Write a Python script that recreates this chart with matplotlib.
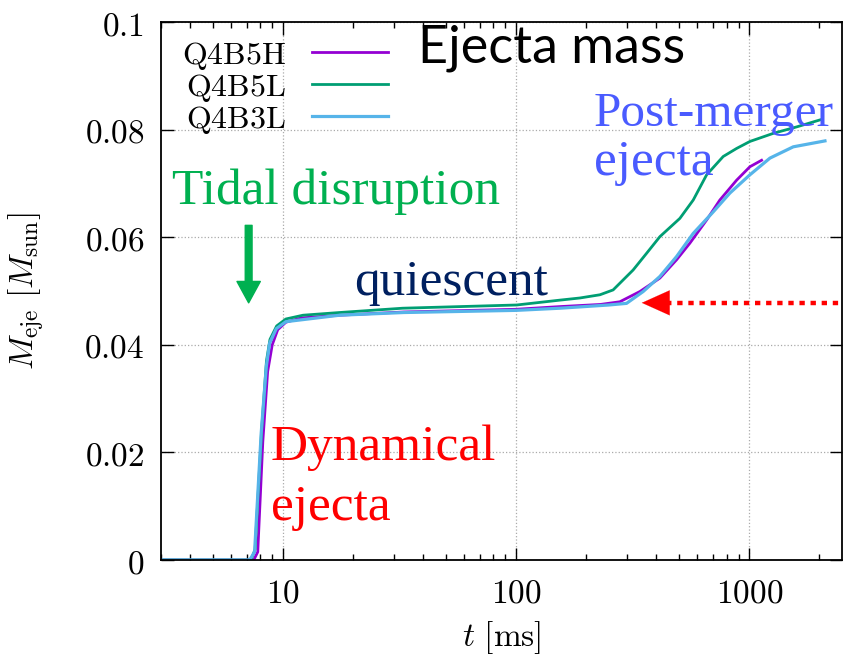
import matplotlib
matplotlib.use('Agg')
import matplotlib.pyplot as plt
from matplotlib.ticker import FixedLocator, FuncFormatter, LogLocator, NullFormatter
import numpy as np

plt.rcParams['mathtext.fontset'] = 'cm'

# ejecta mass curves (t in ms, M in Msun)
t_b5h = [3, 7.5, 7.8, 8.2, 8.6, 9.0, 9.5, 10.3, 12, 17.5, 33, 100, 154, 230,
         278.7, 339.6, 413.8, 488, 556.7, 656.7, 748, 883, 1007, 1130]
m_b5h = [0, 0, 0.0015, 0.022, 0.035, 0.040, 0.0428, 0.0442, 0.045, 0.0455, 0.0461,
         0.0466, 0.0471, 0.0475, 0.048, 0.0499, 0.0524, 0.0558, 0.0589, 0.0632,
         0.0669, 0.0706, 0.0731, 0.0743]

t_b5l = [3, 7.3, 7.6, 8.1, 8.5, 8.8, 9.4, 10.3, 12.2, 17.5, 32.6, 100.7, 154, 187.7,
         229, 260.8, 317.7, 362.8, 413.8, 504.2, 575.1, 656.7, 773.4, 883.1, 1007,
         1268, 1597, 2011]
m_b5l = [0, 0, 0.002, 0.024, 0.037, 0.041, 0.0435, 0.0448, 0.0455, 0.046, 0.0468,
         0.0474, 0.0483, 0.0487, 0.0493, 0.0502, 0.0539, 0.0570, 0.0601, 0.0635,
         0.0669, 0.0716, 0.0750, 0.0765, 0.0778, 0.0793, 0.0805, 0.0818]

t_b3l = [3, 7.2, 7.56, 8.07, 8.49, 8.77, 9.37, 10.3, 17.5, 33, 100, 154, 250, 297.7,
         350.9, 413.8, 488, 575, 700.6, 826, 1007, 1227, 1545, 2113]
m_b3l = [0, 0, 0.0015, 0.0236, 0.036, 0.0403, 0.043, 0.0443, 0.0455, 0.046, 0.0464,
         0.0468, 0.0474, 0.0477, 0.0499, 0.0527, 0.0564, 0.0607, 0.0647, 0.0682,
         0.0716, 0.0747, 0.0768, 0.0779]

labels = ['Q4B5H', 'Q4B5L', 'Q4B3L']
colors = ['#9400D3', '#009E73', '#56B4E9']

y_ticks = [0, 0.02, 0.04, 0.06, 0.08, 0.1]
x_ticks = [10, 100, 1000]

fig = plt.figure(figsize=(8.43, 6.56), dpi=100)
ax = fig.add_axes([161 / 843, 96 / 656, 681 / 843, 538 / 656])

ax.plot(t_b5h, m_b5h, color=colors[0], lw=2.0, label=labels[0])
ax.plot(t_b5l, m_b5l, color=colors[1], lw=2.0, label=labels[1])
ax.plot(t_b3l, m_b3l, color=colors[2], lw=2.3, label=labels[2])

ax.set_xscale('log')
ax.set_xlim(3, 2500)
ax.set_ylim(0, 0.1)

ax.xaxis.set_major_locator(FixedLocator(x_ticks))
ax.xaxis.set_minor_locator(LogLocator(base=10, subs=np.arange(2, 10)))
ax.xaxis.set_minor_formatter(NullFormatter())
ax.xaxis.set_major_formatter(FuncFormatter(lambda v, p: '$%g$' % v))
ax.yaxis.set_major_locator(FixedLocator(y_ticks))
ax.yaxis.set_major_formatter(FuncFormatter(lambda v, p: '$%g$' % v))

ax.tick_params(which='both', direction='in', top=True, right=True, labelsize=24, pad=12)
ax.tick_params(which='major', length=9, width=1.0)
ax.tick_params(which='minor', length=4.5, width=1.0)
for s in ax.spines.values():
    s.set_linewidth(1.3)

ax.grid(True, which='major', color='#aaaaaa', ls=':', lw=0.9)

ax.set_xlabel(r'$t\ [\mathrm{ms}]$', fontsize=24)
ax.set_ylabel(r'$M_{\rm eje}\ [M_{\rm sun}]$', fontsize=24)
ax.xaxis.set_label_coords(0.5, -0.11)
ax.yaxis.set_label_coords(-0.168, 0.5)

leg = ax.legend([l for l in ax.get_lines()], ['$\\mathrm{%s}$' % s for s in labels],
                loc='upper left', bbox_to_anchor=(0.005, 1.0), frameon=False,
                markerfirst=False, fontsize=23, handlelength=2.4, handletextpad=0.8,
                labelspacing=0.0, borderaxespad=0.15)

# annotations
ax.text(37.8, 0.0924, 'Ejecta mass', fontsize=37.5, family='Lato', color='black',
        va='baseline')
ax.text(3.33, 0.0662, 'Tidal disruption', fontsize=37, family='Liberation Serif',
        color='#00B050', va='baseline')
ax.text(20.3, 0.0493, 'quiescent', fontsize=37, family='Liberation Serif',
        color='#002060', va='baseline')
ax.text(8.86, 0.0186, 'Dynamical', fontsize=37, family='Liberation Serif',
        color='#FF0000', va='baseline')
ax.text(8.86, 0.0074, 'ejecta', fontsize=37, family='Liberation Serif',
        color='#FF0000', va='baseline')
ax.text(216, 0.0807, 'Post-merger', fontsize=35.5, family='Liberation Serif',
        color='#4A5BFF', va='baseline', clip_on=False)
ax.text(216, 0.0716, 'ejecta', fontsize=37, family='Liberation Serif',
        color='#4A5BFF', va='baseline')

# green arrow (tidal disruption)
ax.annotate('', xy=(7.13, 0.0478), xytext=(7.13, 0.0622),
            arrowprops=dict(arrowstyle='simple,head_width=1.2,head_length=1.1,tail_width=0.35',
                            color='#00B050', mutation_scale=14, shrinkA=0, shrinkB=0))

# red dotted arrow
ax.plot([395, 2600], [0.0478, 0.0478], color='#FF0000', lw=3.2, dashes=(1.2, 1.3),
        clip_on=False, solid_capstyle='butt')
ax.annotate('', xy=(346, 0.0478), xytext=(400, 0.0478),
            arrowprops=dict(arrowstyle='-|>,head_width=0.45,head_length=1.0',
                            color='#FF0000', lw=0.1, mutation_scale=20,
                            shrinkA=0, shrinkB=0))

fig.savefig('out.png', dpi=100)
